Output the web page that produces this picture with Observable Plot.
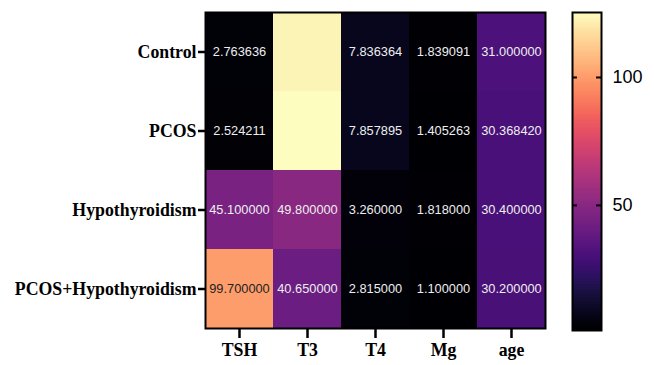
<!DOCTYPE html>
<html><head><meta charset="utf-8">
<script src="https://cdn.jsdelivr.net/npm/d3@7"></script>
<script src="https://cdn.jsdelivr.net/npm/@observablehq/plot@0.6"></script>
<style>
body{margin:0;background:#fff;}
#wrap{position:relative;width:654px;height:365px;}
#main{position:absolute;left:0;top:0;}
#bar{position:absolute;left:560px;top:0;}
</style></head><body>
<div id="wrap"><div id="main"></div><div id="bar"></div></div>
<script>
const groups = ["Control","PCOS","Hypothyroidism","PCOS+Hypothyroidism"];
const variables = ["TSH","T3","T4","Mg","age"];
const TSH = [2.763636, 2.524211, 45.1, 99.7];
const T3  = [122.5, 125.0, 49.8, 40.65];
const T4  = [7.836364, 7.857895, 3.26, 2.815];
const Mg  = [1.839091, 1.405263, 1.818, 1.1];
const age = [31.0, 30.36842, 30.4, 30.2];
const labelShown = [[true,false,true,true,true],[true,false,true,true,true],[true,true,true,true,true],[true,true,true,true,true]];
const colorTicks = [50, 100];
const colorDomain = [1.1, 125.4];

const series = {TSH, T3, T4, Mg, age};
const cells = [];
groups.forEach((g,i)=>variables.forEach((v,j)=>cells.push({group:g, variable:v, value:series[v][i], show:labelShown[i][j]})));

const color = {type:"linear", scheme:"magma", domain:colorDomain};
const serif = "'Liberation Serif','Times New Roman',serif";
const sans = "'Liberation Sans',Arial,sans-serif";

const main = Plot.plot({
  width:560, height:365,
  marginLeft:205, marginRight:15, marginTop:12, marginBottom:37,
  x:{domain:variables, padding:0, label:null},
  y:{domain:groups, padding:0, label:null},
  color,
  style:{background:"white"},
  marks:[
    Plot.cell(cells,{x:"variable", y:"group", fill:"value"}),
    Plot.text(cells.filter(d=>d.show),{x:"variable", y:"group", text:d=>d.value.toFixed(6),
      fill:d=>d.value>90?"#222":"#eeeeee", fontSize:12.8, fontFamily:sans}),
    Plot.frame({stroke:"black", strokeWidth:2}),
    Plot.axisY({tickSize:7, tickPadding:2, strokeWidth:2.5, fontSize:17.8, fontWeight:"bold", fontFamily:serif, fill:"black", label:null}),
    Plot.axisX({tickSize:10, tickPadding:5, strokeWidth:2.5, fontSize:17.8, fontWeight:"bold", fontFamily:serif, fill:"black", label:null})
  ]
});
document.getElementById("main").append(main);

const steps = d3.range(colorDomain[0], colorDomain[1], 0.5).map(v=>({v}));
const bar = Plot.plot({
  width:94, height:365,
  marginLeft:12, marginRight:53, marginTop:12, marginBottom:35,
  x:{domain:[0,1], axis:null},
  y:{domain:colorDomain},
  color,
  marks:[
    Plot.rect(steps,{x1:0, x2:1, y1:"v", y2:d=>Math.min(d.v+1.2, colorDomain[1]), fill:"v", shapeRendering:"crispEdges"}),
    Plot.ruleY(colorTicks,{x1:0, x2:0.17, stroke:"black", strokeWidth:2}),
    Plot.ruleY(colorTicks,{x1:0.83, x2:1, stroke:"black", strokeWidth:2}),
    Plot.frame({stroke:"black", strokeWidth:2}),
    Plot.axisY(colorTicks,{anchor:"right", tickSize:0, tickPadding:11, fontSize:18, fontFamily:sans, fill:"black", label:null})
  ]
});
document.getElementById("bar").append(bar);
</script>
</body></html>
